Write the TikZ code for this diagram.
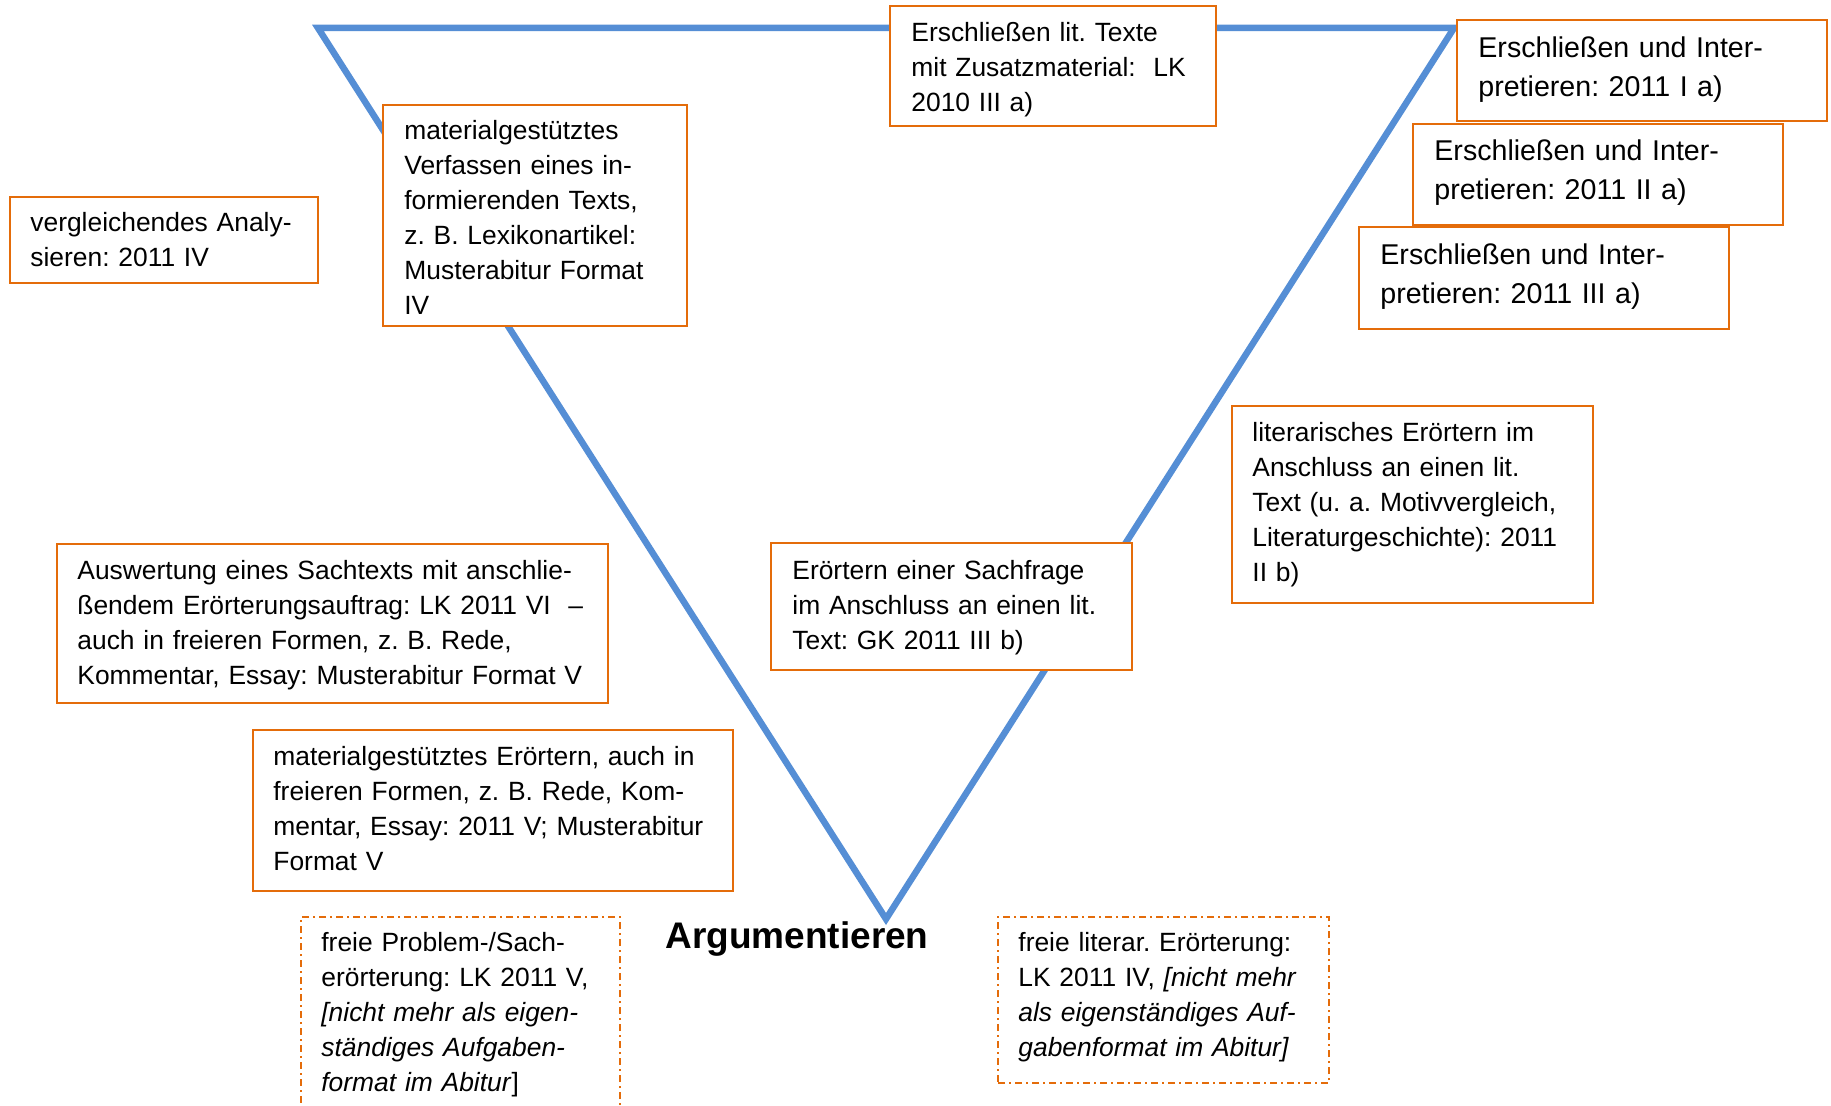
\documentclass[tikz,border=0pt]{standalone}
\usepackage{fontspec}
\setmainfont{Liberation Sans}
\frenchspacing
\definecolor{triblue}{RGB}{85,142,213}
\definecolor{boxorange}{RGB}{228,108,10}
\tikzset{
 tri/.style={draw=triblue, line width=3.25pt, line join=miter},
 box/.style={draw=boxorange, line width=1pt, fill=white, inner sep=0pt, outer sep=0pt, anchor=north west},
 dbox/.style={box, dash pattern=on 3.5pt off 2pt on 1pt off 2pt},
 txt/.style={font=\fontsize{13.2pt}{17.5pt}\selectfont\frenchspacing, text width=400pt, align=left, inner sep=0pt, anchor=base west},
 bigtxt/.style={txt, font=\fontsize{14.3pt}{19.25pt}\selectfont\frenchspacing},
 titletxt/.style={font=\fontsize{18.5pt}{22pt}\selectfont\bfseries, inner sep=0pt, anchor=base}
}
\begin{document}
\begin{tikzpicture}[x=0.5pt, y=-0.5pt]
\useasboundingbox (0,0) rectangle (1831,1106);
\clip (0,0) rectangle (1831,1106);
\fill[white] (0,0) rectangle (1831,1106);
% triangle
\coordinate (tl) at (318,28);
\coordinate (tr) at (1454,28);
\coordinate (bv) at (886,919);
\draw[tri] (tl) -- (tr) -- (bv) -- cycle;
% boxes
\node[box, minimum width=163pt, minimum height=60pt] (b1) at (890,6) {};
\node[txt] (t1) at (911,42) {Erschließen lit. Texte\\mit Zusatzmaterial:\ \ LK\\2010 III a)};
\node[box, minimum width=185pt, minimum height=51pt] (b4) at (1359,227) {};
\node[bigtxt] (t4) at (1380,265) {Erschließen und Inter-\\pretieren: 2011 III a)};
\node[box, minimum width=185pt, minimum height=50.5pt] (b3) at (1413,124) {};
\node[bigtxt] (t3) at (1434,161) {Erschließen und Inter-\\pretieren: 2011 II a)};
\node[box, minimum width=185pt, minimum height=50.5pt] (b2) at (1457,20) {};
\node[bigtxt] (t2) at (1478,58) {Erschließen und Inter-\\pretieren: 2011 I a)};
\node[box, minimum width=152pt, minimum height=110.5pt] (b5) at (383,105) {};
\node[txt] (t5) at (404,140) {materialgestütztes\\Verfassen eines in-\\formierenden Texts,\\z. B. Lexikonartikel:\\Musterabitur Format\\IV};
\node[box, minimum width=154pt, minimum height=43pt] (b6) at (10,197) {};
\node[txt] (t6) at (30,232) {vergleichendes Analy-\\sieren: 2011 IV};
\node[box, minimum width=180.5pt, minimum height=98.5pt] (b7) at (1232,406) {};
\node[txt] (t7) at (1252,442) {literarisches Erörtern im\\Anschluss an einen lit.\\Text (u. a. Motivvergleich,\\Literaturgeschichte): 2011\\II b)};
\node[box, minimum width=180.5pt, minimum height=63.5pt] (b8) at (771,543) {};
\node[txt] (t8) at (792,580) {Erörtern einer Sachfrage\\im Anschluss an einen lit.\\Text: GK 2011 III b)};
\node[box, minimum width=275.5pt, minimum height=79.5pt] (b9) at (57,544) {};
\node[txt] (t9) at (77,580) {Auswertung eines Sachtexts mit anschlie-\\ßendem Erörterungsauftrag: LK 2011 VI\ \ –\\auch in freieren Formen, z. B. Rede,\\Kommentar, Essay: Musterabitur Format V};
\node[box, minimum width=240pt, minimum height=80.5pt] (b10) at (253,730) {};
\node[txt] (t10) at (273,765) {materialgestütztes Erörtern, auch in\\freieren Formen, z. B. Rede, Kom-\\mentar, Essay: 2011 V; Musterabitur\\Format V};
\node[dbox, minimum width=159.5pt, minimum height=101.5pt] (b11) at (301,917) {};
\node[txt] (t11) at (321,951) {freie Problem-/Sach-\\erörterung: LK 2011 V,\\\textit{[nicht mehr als eigen-}\\\textit{ständiges Aufgaben-}\\\textit{format im Abitur}]};
\node[dbox, minimum width=165.5pt, minimum height=83pt] (b12) at (998,917) {};
\node[txt] (t12) at (1018,951) {freie literar. Erörterung:\\LK 2011 IV, \textit{[nicht mehr}\\\textit{als eigenständiges Auf-}\\\textit{gabenformat im Abitur]}};
\node[titletxt] (arg) at (797,948) {Argumentieren};
\end{tikzpicture}
\end{document}
